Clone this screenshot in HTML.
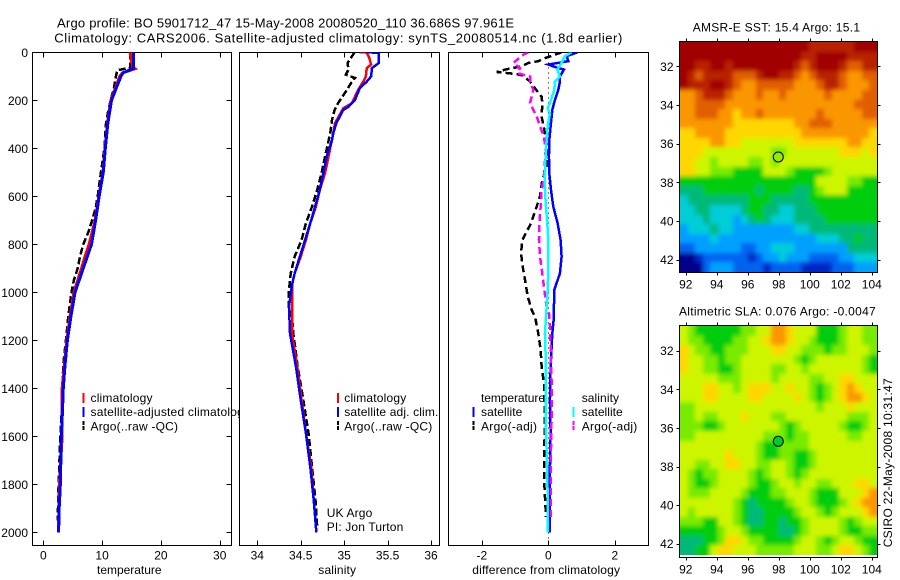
<!DOCTYPE html>
<html>
<head>
<meta charset="utf-8">
<title>Argo profile</title>
<style>
html,body{margin:0;padding:0;background:#fff;}
svg{display:block;}
text{font-family:"Liberation Sans",Arial,sans-serif;font-size:12px;fill:#000;}
.title{font-size:13px;}
.frame{fill:#fff;stroke:#000;stroke-width:1;shape-rendering:crispEdges;}
.frame-top{fill:none;stroke:#000;stroke-width:1;shape-rendering:crispEdges;}
</style>
</head>
<body>
<svg id="chart" width="900" height="580" viewBox="0 0 900 580" xmlns="http://www.w3.org/2000/svg">
<defs>
<clipPath id="clip-temp"><rect x="32.5" y="52.5" width="199" height="493"/></clipPath>
<clipPath id="clip-sal"><rect x="239.5" y="52.5" width="200" height="493"/></clipPath>
<clipPath id="clip-diff"><rect x="448.5" y="52.5" width="200" height="493"/></clipPath>
<clipPath id="clip-sst"><rect x="680" y="42" width="197" height="230"/></clipPath>
<clipPath id="clip-sla"><rect x="680" y="326" width="197" height="229"/></clipPath>
<filter id="cell-soften" x="-5%" y="-5%" width="110%" height="110%"><feGaussianBlur stdDeviation="2"/></filter>
</defs>
<rect x="0" y="0" width="900" height="580" fill="#fff"/>
<text class="title" x="57" y="27.5" textLength="457">Argo profile: BO 5901712_47 15-May-2008 20080520_110 36.686S 97.961E</text>
<text class="title" x="54.3" y="42.5" textLength="568">Climatology: CARS2006. Satellite-adjusted climatology: synTS_20080514.nc (1.8d earlier)</text>

<g id="panel-temp">
<rect class="frame" x="32.5" y="52.5" width="199" height="493"/>
<g id="marks-temp" clip-path="url(#clip-temp)"></g>
<g id="ticks-temp"></g>
<text x="97" y="574" textLength="64.5">temperature</text>
<g>
<line x1="83.5" x2="83.5" y1="393" y2="403" stroke="#f00" stroke-width="2" shape-rendering="crispEdges"/>
<line x1="83.5" x2="83.5" y1="407" y2="417" stroke="#00f" stroke-width="2" shape-rendering="crispEdges"/>
<line x1="83.5" x2="83.5" y1="421" y2="431" stroke="#000" stroke-width="2" stroke-dasharray="4 1" shape-rendering="crispEdges"/>
<text x="90.5" y="402" textLength="62">climatology</text>
<text x="90.5" y="416" textLength="159.5">satellite-adjusted climatology</text>
<text x="90.5" y="430.5" textLength="87.5">Argo(..raw -QC)</text>
</g>
</g>

<g id="panel-sal">
<rect class="frame" x="239.5" y="52.5" width="200" height="493"/>
<g id="marks-sal" clip-path="url(#clip-sal)"></g>
<g id="ticks-sal"></g>
<text x="318.3" y="574" textLength="37.7">salinity</text>
<g>
<line x1="338" x2="338" y1="393" y2="403" stroke="#f00" stroke-width="2" shape-rendering="crispEdges"/>
<line x1="338" x2="338" y1="407" y2="417" stroke="#00f" stroke-width="2" shape-rendering="crispEdges"/>
<line x1="338" x2="338" y1="421" y2="431" stroke="#000" stroke-width="2" stroke-dasharray="4 1" shape-rendering="crispEdges"/>
<text x="344.3" y="402" textLength="62">climatology</text>
<text x="344.3" y="416" textLength="94">satellite adj. clim.</text>
<text x="344.3" y="430.5" textLength="88">Argo(..raw -QC)</text>
</g>
<text x="326.7" y="517" textLength="45.6">UK Argo</text>
<text x="326.7" y="531" textLength="76.6">PI: Jon Turton</text>
</g>

<g id="panel-diff">
<rect class="frame" x="448.5" y="52.5" width="200" height="493"/>
<g>
<text x="481" y="402" textLength="64">temperature</text>
<text x="481" y="416" textLength="41.3">satellite</text>
<text x="481" y="430.5" textLength="56">Argo(-adj)</text>
<text x="581.7" y="402" textLength="37.3">salinity</text>
<text x="581.7" y="416" textLength="41">satellite</text>
<text x="581.7" y="430.5" textLength="55.6">Argo(-adj)</text>
<line x1="473.7" x2="473.7" y1="407" y2="417" stroke="#00f" stroke-width="2" shape-rendering="crispEdges"/>
<line x1="473.7" x2="473.7" y1="421" y2="431" stroke="#000" stroke-width="2" stroke-dasharray="4 1" shape-rendering="crispEdges"/>
<line x1="573.7" x2="573.7" y1="407" y2="417" stroke="#0ff" stroke-width="2" shape-rendering="crispEdges"/>
<line x1="573.7" x2="573.7" y1="421" y2="431" stroke="#f0f" stroke-width="2" stroke-dasharray="4 1" shape-rendering="crispEdges"/>
</g>
<g id="marks-diff" clip-path="url(#clip-diff)"></g>
<g id="ticks-diff"></g>
<text x="472.3" y="574" textLength="147.7">difference from climatology</text>
</g>

<g id="panel-sst">
<text x="692.7" y="31.5" textLength="167.3">AMSR-E SST: 15.4  Argo: 15.1</text>
<g clip-path="url(#clip-sst)"><g id="cells-sst" filter="url(#cell-soften)"></g></g>
<rect class="frame-top" x="679.5" y="41.5" width="198" height="231"/>
<g id="ticks-sst"></g>
<circle cx="778.3" cy="157" r="5" fill="#96eb00" stroke="#000" stroke-width="1"/>
</g>

<g id="panel-sla">
<text x="679" y="315.5" textLength="196.7">Altimetric SLA: 0.076  Argo: -0.0047</text>
<g clip-path="url(#clip-sla)"><g id="cells-sla" filter="url(#cell-soften)"></g></g>
<rect class="frame-top" x="679.5" y="325.5" width="198" height="232"/>
<g id="ticks-sla"></g>
<circle cx="778.3" cy="441.3" r="5" fill="#00cd28" stroke="#000" stroke-width="1"/>
</g>

<text x="0" y="0" textLength="169" transform="translate(892,547.3) rotate(-90)">CSIRO 22-May-2008 10:31:47</text>
</svg>

<script>
/* ---------- tick labels ---------- */
var depthTicks = [0,200,400,600,800,1000,1200,1400,1600,1800,2000];
var tempTicks = [0,10,20,30];
var salTicks = [34,34.5,35,35.5,36];
var diffTicks = [-2,0,2];
var lonTicks = [92,94,96,98,100,102,104];
var latTicks = [32,34,36,38,40,42];

/* ---------- temperature panel ---------- */
var tempDepths = [0,60,68,85,100,200,300,400,500,600,700,800,850,900,1000,1100,1200,1300,1400,1500,1600,1800,1900,2000];
var tempClim = [14.75,15.2,15.6,13.5,13,11.5,10.9,10.5,10.15,9.45,8.8,7.8,7.1,6.5,5.2,4.55,4,3.6,3.2,3.2,3.2,2.75,2.65,2.6];
var tempSat = [15.3,15.3,15.3,13.6,13.2,11.6,10.95,10.55,10.2,9.5,8.9,8.2,7.5,6.8,5.4,4.7,4.1,3.7,3.4,3.25,3.07,2.9,2.7,2.6];
var tempArgoDepths = [0,65,70,75,100,150,200,250,300,400,500,600,650,700,750,800,850,900,950,1000,1100,1200,1300,1400,1500,1600,1800,1950];
var tempArgo = [14.75,14.75,13.6,12.6,12.35,12,11.45,11,10.65,10.4,9.8,9.25,8.9,8.3,7.65,6.8,6.25,5.85,5.2,4.8,4.25,3.85,3.4,3.25,3.1,2.9,2.6,2.45];

/* ---------- salinity panel ---------- */
var salClimDepths = [0,1,24,51,66,101,122,157,212,233,295,365,434,504,573,643,712,782,851,921,969,1060,1172,1310,1449,1588,1727,1866,2000];
var salClim = [35.18,35.26,35.29,35.31,35.26,35.25,35.22,35.16,35.09,34.99,34.895,34.86,34.82,34.78,34.72,34.675,34.61,34.56,34.5,34.43,34.4,34.4,34.4,34.46,34.51,34.56,34.62,34.65,34.68];
var salSatDepths = [0,2,44,66,101,122,150,198,227,240,295,337,365,434,504,573,643,712,782,851,921,969,1060,1172,1310,1449,1588,1727,1866,2000];
var salSat = [35.26,35.4,35.4,35.32,35.31,35.26,35.18,35.125,35.05,34.99,34.91,34.875,34.86,34.8,34.76,34.72,34.665,34.61,34.55,34.49,34.43,34.4,34.365,34.377,34.445,34.5,34.56,34.61,34.65,34.68];
var salArgoDepths = [0,44,72,93,107,122,157,185,212,240,282,337,434,504,573,643,712,782,851,921,990,1060,1102,1172,1310,1449,1588,1727,1866,1980];
var salArgo = [35.12,35.04,35.05,35.02,35.125,35.09,35.03,34.98,34.93,34.89,34.86,34.84,34.78,34.74,34.69,34.63,34.56,34.51,34.43,34.385,34.365,34.36,34.4,34.415,34.465,34.53,34.59,34.63,34.67,34.69];

/* ---------- difference panel ---------- */
var diffTempSatDepths = [0,16,37,51,66,72,101,122,157,198,240,295,365,434,504,573,643,712,782,851,921,990,1060,1102,1172,1310,1449,1588,1727,1866,2000];
var diffTempSat = [0.88,0.55,0.6,0,0.3,0.47,0.35,0.35,0.3,0.2,0.12,0.08,0.03,0.02,0.03,0.08,0.15,0.28,0.37,0.4,0.35,0.18,0.17,0.17,0.12,0.07,0.05,0.07,0.05,0.04,0.04];
var diffSalSatDepths = [0,16,44,72,101,122,157,212,233,254,309,365,434,504,573,643,712,782,921,990,1060,1172,1310,1449,1588,1660,1727,1866,2000];
var diffSalSat = [0.7,0.5,0.4,0.27,0.35,0.2,0.18,0.05,-0.02,0.05,-0.02,-0.05,-0.08,-0.1,-0.1,-0.07,-0.03,0,0,-0.02,-0.05,-0.1,-0.07,-0.07,-0.07,-0.05,-0.03,-0.02,-0.02];
var diffTempArgoDepths = [0,10,24,37,44,58,72,82,90,97,122,150,185,212,268,323,365,420,476,531,600,643,712,782,837,893,948,1017,1073,1102,1172,1241,1310,1380,1519,1658,1797,1936];
var diffTempArgo = [0.4,0.2,-0.1,-0.3,-0.6,-0.8,-1.3,-1.55,-1,-0.75,-0.55,-0.4,-0.2,-0.18,-0.2,-0.12,-0.07,0,-0.05,-0.18,-0.25,-0.35,-0.52,-0.78,-0.82,-0.77,-0.7,-0.62,-0.5,-0.4,-0.3,-0.23,-0.2,-0.13,-0.1,-0.12,-0.12,-0.07];
var diffSalArgoDepths = [0,10,44,66,87,101,122,157,212,240,274,309,351,406,504,573,643,712,782,851,921,990,1060,1088,1130,1241,1380,1519,1658,1797,1936];
var diffSalArgo = [-0.6,-0.75,-1.05,-0.85,-0.92,-0.55,-0.55,-0.45,-0.55,-0.45,-0.33,-0.25,-0.13,-0.08,-0.12,-0.2,-0.23,-0.27,-0.28,-0.25,-0.18,-0.12,-0.05,0.02,0.05,0.07,0.1,0.1,0.08,0.07,0.07];
var diffZeroDepths = [0,2054];
var diffZero = [0,0];

/* ---------- SST map: colour level per 0.5 degree cell ---------- */
var sstLevels = [
[13,13,13,13,13,13,13,13,13,13,13,13,13,13,13,13,13,12,12,12,12,12,12,13,13,13],
[13,13,13,13,13,13,13,13,13,13,13,13,13,13,13,13,12,12,13,13,13,13,12,12,12,12],
[13,13,12,12,13,13,12,13,13,13,13,13,13,13,13,12,11,12,13,13,13,12,11,11,12,12],
[13,12,11,12,12,12,12,11,11,11,12,13,13,12,12,11,10,11,12,12,12,11,10,10,11,11],
[13,12,12,12,13,13,12,11,10,10,11,11,11,11,11,10,10,10,11,12,12,11,10,10,10,11],
[10,10,11,12,12,12,11,10,10,10,11,10,10,11,10,10,10,10,10,11,10,10,10,10,11,11],
[10,10,11,11,11,11,10,10,10,10,10,10,10,10,10,10,10,10,10,10,10,10,10,11,11,11],
[10,10,11,11,11,10,10,9,10,10,11,10,10,10,10,10,10,10,11,10,10,10,10,10,11,11],
[10,10,10,10,10,10,10,9,9,9,9,9,9,9,9,10,10,11,11,11,10,10,10,10,10,10],
[9,9,10,10,10,10,9,9,9,9,9,9,9,9,9,9,10,10,10,10,10,10,10,10,10,9],
[9,9,9,9,10,10,9,9,8,8,8,8,8,8,8,9,9,9,9,9,9,9,10,10,9,9],
[9,9,9,8,8,8,8,8,8,8,8,8,7,7,8,8,8,8,8,8,8,9,9,9,8,9],
[9,9,8,8,7,8,8,8,8,7,7,8,7,8,8,8,8,8,8,8,8,8,8,8,8,8],
[9,9,8,8,7,7,7,6,6,6,6,8,8,8,7,6,6,6,6,7,8,8,8,8,8,8],
[6,6,6,6,6,6,6,6,6,6,6,6,6,6,6,6,6,6,8,8,8,8,7,7,6,6],
[5,5,5,6,6,6,6,6,6,6,5,6,6,6,6,5,5,6,7,8,8,8,6,6,6,6],
[4,5,5,5,5,5,5,5,5,6,6,6,5,5,5,5,5,6,6,6,6,6,6,6,6,6],
[4,4,5,5,4,4,4,4,5,6,6,5,5,4,4,5,5,5,6,6,6,6,6,6,6,6],
[4,4,4,5,4,4,4,3,4,5,6,5,4,4,4,5,5,5,5,6,6,6,6,6,6,6],
[3,4,4,4,5,4,4,3,3,3,3,3,3,3,3,4,4,5,5,5,5,5,5,5,5,5],
[3,3,3,3,4,3,3,3,3,3,3,3,3,3,3,3,3,3,4,4,4,5,5,6,5,5],
[2,2,3,3,3,3,3,3,2,2,3,3,4,4,4,3,3,3,3,3,3,3,5,5,5,5],
[0,0,1,2,2,2,2,2,2,1,2,3,3,4,3,3,3,2,2,2,2,3,3,4,4,4],
[0,0,0,2,3,3,3,2,2,2,2,1,2,2,2,2,1,1,1,1,2,2,2,3,3,3]
];

/* ---------- SLA map: colour level per 0.5 degree cell ---------- */
var slaLevels = [
[8,7,6,6,6,6,6,6,7,7,8,8,10,10,9,8,8,8,6,6,6,7,8,8,7,7],
[8,7,7,6,6,6,6,7,7,8,8,9,10,10,9,8,8,7,6,6,6,7,8,8,7,7],
[9,8,7,7,6,6,7,7,7,8,8,8,9,9,8,8,7,7,7,6,7,7,8,8,8,7],
[9,8,8,7,7,6,7,7,8,8,8,8,8,8,8,7,6,7,8,8,8,8,8,8,7,6],
[9,8,8,7,7,6,6,7,8,8,8,8,7,7,8,8,7,8,8,8,8,8,8,8,7,6],
[8,8,8,8,8,7,7,7,8,8,8,8,7,8,8,8,8,7,7,8,8,9,9,8,8,8],
[8,8,8,9,9,8,8,7,8,9,9,9,8,8,9,8,8,7,6,7,8,9,10,9,8,8],
[8,8,8,9,9,8,8,8,8,9,9,8,8,8,8,9,8,7,6,7,8,9,10,10,9,8],
[7,7,8,8,8,8,8,8,8,8,8,8,8,8,8,8,8,8,7,8,8,8,9,8,8,8],
[7,7,8,7,7,8,8,8,9,8,8,8,7,7,8,8,8,8,8,8,8,8,7,7,7,8],
[7,7,7,6,6,7,8,8,8,8,8,8,8,7,6,7,8,8,8,8,8,7,6,6,7,8],
[7,7,8,8,8,8,8,8,8,8,8,7,7,7,6,7,7,8,8,8,8,8,7,7,8,8],
[8,8,8,8,8,8,8,8,8,8,7,6,6,7,7,7,7,8,8,8,8,8,8,8,8,8],
[8,8,8,8,8,8,9,8,8,8,7,6,6,7,7,6,6,7,8,8,8,8,8,8,8,8],
[8,8,7,7,8,8,9,9,8,8,7,7,8,8,7,6,6,7,8,8,8,8,8,8,8,8],
[8,7,6,7,7,8,8,8,8,7,6,7,8,8,7,6,7,8,8,8,8,8,8,8,8,8],
[8,7,6,6,7,8,8,8,8,7,6,6,7,8,8,7,8,8,7,7,8,8,8,9,9,8],
[8,7,7,7,8,8,8,8,7,6,6,6,7,7,8,8,8,7,6,6,6,8,8,8,9,10],
[8,8,8,8,8,8,8,7,6,5,6,6,6,6,7,8,8,7,6,6,6,7,8,9,10,10],
[8,7,8,8,8,8,8,7,6,5,5,6,6,6,6,7,8,8,7,6,7,8,8,8,9,10],
[7,7,7,6,6,8,8,7,6,5,5,6,6,5,6,6,7,8,8,8,8,7,6,7,8,8],
[6,6,6,6,6,7,8,8,7,6,6,6,6,5,5,6,7,8,8,8,8,7,6,6,7,7],
[5,5,5,6,6,7,9,9,8,7,7,6,6,6,6,7,8,8,7,6,7,8,8,7,6,6],
[5,5,6,6,8,9,9,8,8,8,7,7,7,7,7,8,8,8,7,7,8,9,9,8,7,6]
];

var levelPalette = ['#00008c','#0028c8','#0064f0','#00a0ff','#00cdd7','#00b978','#00cd0a','#78eb00','#cdf500','#ffd700','#fa9600','#e15f00','#b92300','#a00000'];

/* ---------- axis functions ---------- */
var SVGNS = 'http://www.w3.org/2000/svg';
function depthY(d){ return 52.3 + 0.24 * d; }
function tempX(v){ return 43.3 + 5.88 * v; }
function salX(v){ return 257.3 + 86.85 * (v - 34); }
function diffX(v){ return 548.3 + 33.25 * v; }
function lonX(v){ return 686.3 + 15.5 * (v - 92); }
function latYSst(v){ return 66.3 + 19.33 * (v - 32); }
function latYSla(v){ return 350.7 + 19.3 * (v - 32); }

function makeLine(x1, y1, x2, y2) {
  var el = document.createElementNS(SVGNS, 'line');
  el.setAttribute('x1', x1);
  el.setAttribute('y1', y1);
  el.setAttribute('x2', x2);
  el.setAttribute('y2', y2);
  el.setAttribute('stroke', '#000');
  el.setAttribute('shape-rendering', 'crispEdges');
  return el;
}
function makeText(str, x, y, anchor) {
  var el = document.createElementNS(SVGNS, 'text');
  el.setAttribute('x', x);
  el.setAttribute('y', y);
  el.setAttribute('text-anchor', anchor);
  el.textContent = str;
  return el;
}
function drawSeries(groupId, name, depths, values, xf, color, width, dash) {
  var el = document.createElementNS(SVGNS, 'polyline');
  
  
  var pts = [];
  for (var i = 0; i < depths.length; i++) {
    pts.push(xf(values[i]).toFixed(2) + ',' + depthY(depths[i]).toFixed(2));
  }
  el.setAttribute('points', pts.join(' '));
  el.setAttribute('fill', 'none');
  el.setAttribute('stroke', color);
  el.setAttribute('stroke-width', width);
  el.setAttribute('shape-rendering', 'crispEdges');
  if (dash) { el.setAttribute('stroke-dasharray', dash); }
  document.getElementById(groupId).appendChild(el);
}
function drawProfileAxes(groupId, ticks, xf, left, right, showDepth) {
  var g = document.getElementById(groupId);
  ticks.forEach(function (t) {
    var x = Math.round(xf(t)) + 0.5;
    var top = makeLine(x, 52.5, x, 57.5);
    
    
    g.appendChild(top);
    var bottom = makeLine(x, 540.5, x, 545.5);
    
    
    g.appendChild(bottom);
    var label = makeText(String(t), xf(t), 559.5, 'middle');
    
    
    g.appendChild(label);
  });
  if (!showDepth) { return; }
  depthTicks.forEach(function (d) {
    var y = Math.round(depthY(d)) + 0.5;
    if (d > 0) {
      var l = makeLine(left, y, left + 5, y);
      
      
      g.appendChild(l);
      var r = makeLine(right - 5, y, right, y);
      
      
      g.appendChild(r);
    }
    var label = makeText(String(d), 28, depthY(d) + 4.5, 'end');
    
    
    g.appendChild(label);
  });
}
function drawHeatmap(groupId, levels, left, top, width, height) {
  var g = document.getElementById(groupId);
  var rows = levels.length;
  var bleed = 12;
  levels.forEach(function (row, r) {
    var cols = row.length;
    row.forEach(function (v, c) {
      var el = document.createElementNS(SVGNS, 'rect');
      
      
      var x0 = Math.round(left + c * width / cols);
      var x1 = Math.round(left + (c + 1) * width / cols);
      var y0 = Math.round(top + r * height / rows);
      var y1 = Math.round(top + (r + 1) * height / rows);
      if (c === 0) { x0 -= bleed; }
      if (c === cols - 1) { x1 += bleed; }
      if (r === 0) { y0 -= bleed; }
      if (r === rows - 1) { y1 += bleed; }
      el.setAttribute('x', x0);
      el.setAttribute('y', y0);
      el.setAttribute('width', x1 - x0);
      el.setAttribute('height', y1 - y0);
      var idx = Math.max(0, Math.min(levelPalette.length - 1, Math.round(v)));
      el.setAttribute('fill', levelPalette[idx]);
      el.setAttribute('shape-rendering', 'crispEdges');
      g.appendChild(el);
    });
  });
}
function drawMapAxes(groupId, latY, top, bottom, labelY) {
  var g = document.getElementById(groupId);
  lonTicks.forEach(function (lon) {
    var x = Math.round(lonX(lon)) + 0.5;
    var a = makeLine(x, top - 3, x, top);
    
    
    g.appendChild(a);
    var b = makeLine(x, bottom, x, bottom + 3);
    
    
    g.appendChild(b);
    var label = makeText(String(lon), lonX(lon) - 0.5, labelY, 'middle');
    
    
    g.appendChild(label);
  });
  latTicks.forEach(function (lat) {
    var y = Math.round(latY(lat)) + 0.5;
    var a = makeLine(676.5, y, 679.5, y);
    
    
    g.appendChild(a);
    var b = makeLine(877.5, y, 880.5, y);
    
    
    g.appendChild(b);
    var label = makeText(String(lat), 673.5, latY(lat) + 4.5, 'end');
    
    
    g.appendChild(label);
  });
}

/* ---------- draw everything ---------- */
drawSeries('marks-temp', 'temperature-argo-line', tempArgoDepths, tempArgo, tempX, '#000', 2.5, '7 3');
drawSeries('marks-temp', 'temperature-climatology-line', tempDepths, tempClim, tempX, '#f00', 3);
drawSeries('marks-temp', 'temperature-satellite-line', tempDepths, tempSat, tempX, '#00f', 3);

drawSeries('marks-sal', 'salinity-argo-line', salArgoDepths, salArgo, salX, '#000', 2.5, '7 3');
drawSeries('marks-sal', 'salinity-climatology-line', salClimDepths, salClim, salX, '#f00', 2.5);
drawSeries('marks-sal', 'salinity-satellite-line', salSatDepths, salSat, salX, '#00f', 2.5);

drawSeries('marks-diff', 'zero-reference-line', diffZeroDepths, diffZero, diffX, '#000', 1, '1 4');
drawSeries('marks-diff', 'difference-temperature-argo-line', diffTempArgoDepths, diffTempArgo, diffX, '#000', 2.5, '7 4');
drawSeries('marks-diff', 'difference-temperature-satellite-line', diffTempSatDepths, diffTempSat, diffX, '#00f', 2.5);
drawSeries('marks-diff', 'difference-salinity-argo-line', diffSalArgoDepths, diffSalArgo, diffX, '#f0f', 2.5, '7 4');
drawSeries('marks-diff', 'difference-salinity-satellite-line', diffSalSatDepths, diffSalSat, diffX, '#0ff', 2.5);

drawProfileAxes('ticks-temp', tempTicks, tempX, 32.5, 231.5, true);
drawProfileAxes('ticks-sal', salTicks, salX, 239.5, 439.5, false);
drawProfileAxes('ticks-diff', diffTicks, diffX, 448.5, 648.5, false);

drawHeatmap('cells-sst', sstLevels, 680, 42, 197, 230);
drawHeatmap('cells-sla', slaLevels, 680, 326, 197, 229);

drawMapAxes('ticks-sst', latYSst, 41.5, 272.5, 288.5);
drawMapAxes('ticks-sla', latYSla, 325.5, 557.5, 573.5);
</script>
</body>
</html>
